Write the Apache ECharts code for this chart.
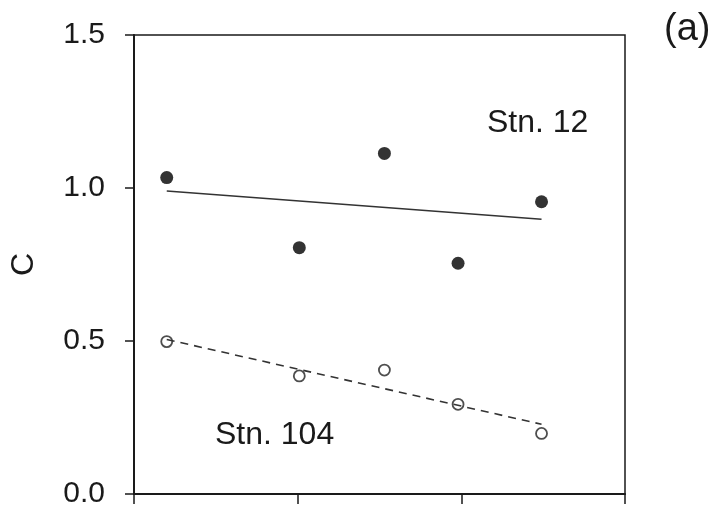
<!DOCTYPE html>
<html>
<head>
<meta charset="utf-8">
<script src="https://cdn.jsdelivr.net/npm/echarts@6/dist/echarts.min.js"></script>
<style>
html,body{margin:0;padding:0;background:#fff;}
#chart{width:728px;height:509px;}
</style>
</head>
<body>
<div id="chart"></div>
<script>
// Data
const xValues = [0.2, 1.01, 1.53, 1.98, 2.49];
const stn12 = [1.034, 0.805, 1.113, 0.754, 0.955];
const stn104 = [0.498, 0.386, 0.405, 0.293, 0.198];
const trendX = [0.2, 2.49];
const trend12 = [0.99, 0.898];
const trend104 = [0.505, 0.228];
const yTicks = [0, 0.5, 1.0, 1.5];
const yName = 'C';
const labels = {stn12: 'Stn. 12', stn104: 'Stn. 104', panel: '(a)'};

const pairs = (xs, ys) => xs.map((x, i) => [x, ys[i]]);
const FONT = '"Liberation Sans", Arial, sans-serif';
const INK = '#1a1a1a';

const chart = echarts.init(document.getElementById('chart'));
chart.setOption({
  animation: false,
  backgroundColor: '#fff',
  grid: {left: 134, right: 103, top: 35, bottom: 15, show: true, borderColor: INK, borderWidth: 1.5,
    backgroundColor: 'transparent', containLabel: false, outerBoundsMode: 'none'},
  xAxis: {
    type: 'value', min: 0, max: 3, interval: 1,
    axisLine: {show: true, lineStyle: {color: INK, width: 2}},
    axisTick: {show: true, inside: false, length: 10, lineStyle: {color: INK, width: 1.5}},
    axisLabel: {show: false},
    splitLine: {show: false}
  },
  yAxis: {
    type: 'value', min: yTicks[0], max: yTicks[yTicks.length - 1], interval: 0.5,
    name: yName, nameLocation: 'middle', nameRotate: 90, nameGap: 94,
    nameTextStyle: {fontFamily: FONT, fontSize: 32, color: INK},
    axisLine: {show: true, lineStyle: {color: INK, width: 2}},
    axisTick: {show: true, inside: false, length: 9, lineStyle: {color: INK, width: 1.5}},
    axisLabel: {margin: 29, fontFamily: FONT, fontSize: 30, color: INK,
      formatter: v => v.toFixed(1)},
    splitLine: {show: false}
  },
  series: [
    {type: 'line', data: pairs(trendX, trend12), symbol: 'none', silent: true,
      lineStyle: {color: '#333', width: 1.6}},
    {type: 'line', data: pairs(trendX, trend104), symbol: 'none', silent: true,
      lineStyle: {color: '#333', width: 1.6, type: [8, 6]}},
    {type: 'scatter', data: pairs(xValues, stn12), symbol: 'circle', symbolSize: 13,
      itemStyle: {color: '#000'}},
    {type: 'scatter', data: pairs(xValues, stn104), symbol: 'circle', symbolSize: 11,
      itemStyle: {color: '#fff', borderColor: '#222', borderWidth: 1.8}}
  ],
  graphic: [
    {type: 'text', left: 487, top: 107, style: {text: labels.stn12, font: '32px ' + FONT, fill: INK}},
    {type: 'text', left: 215, top: 419, style: {text: labels.stn104, font: '32px ' + FONT, fill: INK}},
    {type: 'text', left: 664, top: 11, style: {text: labels.panel, font: '38px ' + FONT, fill: INK}}
  ]
});
</script>
</body>
</html>
